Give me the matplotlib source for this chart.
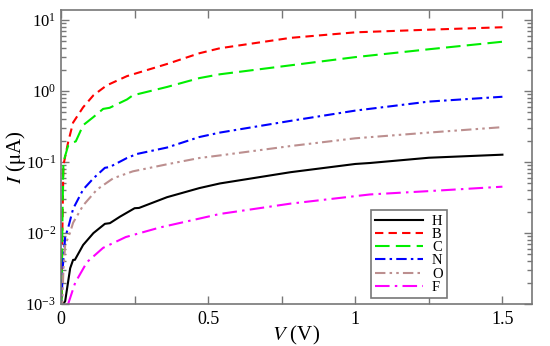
import numpy as np
import matplotlib
matplotlib.use("Agg")
import matplotlib.pyplot as plt
from matplotlib.ticker import LogLocator, MultipleLocator, FixedLocator, NullFormatter

plt.rcParams["font.family"] = ["Liberation Serif", "DejaVu Serif"]
plt.rcParams["mathtext.fontset"] = "stix"

# Curvas I-V (V en voltios, I en microamperios)
V_H = [0.007, 0.014, 0.031, 0.041, 0.047, 0.075, 0.11, 0.149, 0.166, 0.2, 0.25, 0.265,
       0.36, 0.47, 0.54, 0.78, 1.0, 1.05, 1.25, 1.5]
I_H = [0.001, 0.0011, 0.0032, 0.0042, 0.0042, 0.0068, 0.01, 0.0135, 0.0138, 0.017, 0.0224, 0.0226,
       0.032, 0.043, 0.05, 0.072, 0.094, 0.097, 0.115, 0.127]

V_B = [0.001, 0.004, 0.008, 0.024, 0.041, 0.075, 0.11, 0.155, 0.224, 0.36, 0.47, 0.54,
       0.78, 1.0, 1.25, 1.5]
I_B = [0.0005, 0.008, 0.09, 0.19, 0.36, 0.59, 0.87, 1.2, 1.62, 2.4, 3.4, 4.0,
       5.6, 6.7, 7.3, 7.9]

V_C = [0.001, 0.005, 0.008, 0.024, 0.041, 0.05, 0.075, 0.11, 0.143, 0.165, 0.224, 0.244,
       0.36, 0.47, 0.54, 0.78, 1.0, 1.25, 1.5]
I_C = [0.0005, 0.02, 0.1, 0.17, 0.19, 0.195, 0.33, 0.43, 0.56, 0.58, 0.76, 0.87,
       1.14, 1.52, 1.72, 2.3, 3.0, 3.87, 4.94]

V_N = [0.002, 0.005, 0.014, 0.024, 0.041, 0.075, 0.11, 0.149, 0.165, 0.224, 0.258,
       0.36, 0.47, 0.54, 0.78, 1.0, 1.25, 1.5]
I_N = [0.0008, 0.003, 0.0088, 0.0118, 0.022, 0.041, 0.059, 0.083, 0.085, 0.114, 0.13,
       0.16, 0.225, 0.26, 0.38, 0.53, 0.71, 0.83]

V_O = [0.003, 0.008, 0.014, 0.03, 0.041, 0.075, 0.122, 0.177, 0.244, 0.36, 0.47, 0.54,
       0.78, 1.0, 1.25, 1.5]
I_O = [0.0008, 0.003, 0.0068, 0.01, 0.014, 0.0245, 0.041, 0.059, 0.074, 0.093, 0.114, 0.124,
       0.168, 0.216, 0.26, 0.31]

V_F = [0.024, 0.048, 0.088, 0.143, 0.22, 0.336, 0.47, 0.54, 0.78, 1.05, 1.25, 1.5]
I_F = [0.001, 0.002, 0.0039, 0.0062, 0.0088, 0.012, 0.016, 0.0186, 0.026, 0.035, 0.039, 0.045]

etiquetas = ["H", "B", "C", "N", "O", "F"]

fig = plt.figure(figsize=(5.5, 3.46), dpi=100)
ax = fig.add_axes([0.111, 0.121, 0.856, 0.850])

ax.plot(V_H, I_H, color="black", lw=1.5, ls="-", label=etiquetas[0])
ax.plot(V_B, I_B, color="red", lw=1.5, ls=(0, (4, 2.5)), label=etiquetas[1])
ax.plot(V_C, I_C, color="#00ee00", lw=1.5, ls=(0, (7, 3)), label=etiquetas[2])
ax.plot(V_N, I_N, color="blue", lw=1.5, ls=(0, (5, 2, 1.2, 2)), label=etiquetas[3])
ax.plot(V_O, I_O, color="#bc8f8f", lw=1.5, ls=(0, (5, 2, 1.2, 2, 1.2, 2)), label=etiquetas[4])
ax.plot(V_F, I_F, color="magenta", lw=1.5, ls=(0, (7, 2.5, 1.2, 2.5)), label=etiquetas[5])

ax.set_yscale("log")
ax.set_xlim(0, 1.6)
ax.set_ylim(1e-3, 13.8)

ax.xaxis.set_major_locator(FixedLocator([0, 0.5, 1.0, 1.5]))
ax.set_xticklabels(["0", "0.5", "1", "1.5"])
ax.xaxis.set_minor_locator(MultipleLocator(0.25))
ax.yaxis.set_major_locator(LogLocator(base=10, numticks=10))
ax.yaxis.set_minor_locator(LogLocator(base=10, subs=np.arange(2, 10), numticks=20))
ax.yaxis.set_minor_formatter(NullFormatter())

frame = "#777777"
for s in ax.spines.values():
    s.set_color(frame)
    s.set_linewidth(1.2)
ax.tick_params(which="both", direction="in", top=True, right=True, colors=frame,
               labelcolor="black")
ax.tick_params(axis="x", labelsize=13)
ax.tick_params(axis="y", labelsize=12)
ax.tick_params(which="major", length=6, width=1)
ax.tick_params(axis="x", which="major", pad=5)
ax.tick_params(axis="x", which="minor", length=6, width=1)
ax.tick_params(axis="y", which="minor", length=3.5, width=1)

ax.set_xlabel(r"$V$ (V)", fontsize=15)
ax.set_ylabel(r"$I$ ($\mathrm{\mu}$A)", fontsize=15)
ax.xaxis.set_label_coords(0.5, -0.068)
ax.yaxis.set_label_coords(-0.07, 0.5)

leg = ax.legend(loc="lower right", bbox_to_anchor=(0.82, 0.02), fontsize=10.5,
                markerfirst=True, handlelength=3.3, handletextpad=0.6,
                labelspacing=0.0, borderpad=0.3, borderaxespad=0,
                fancybox=False, framealpha=1)
leg.get_frame().set_edgecolor(frame)
leg.get_frame().set_linewidth(1.2)

plt.savefig("out.png", dpi=100)
